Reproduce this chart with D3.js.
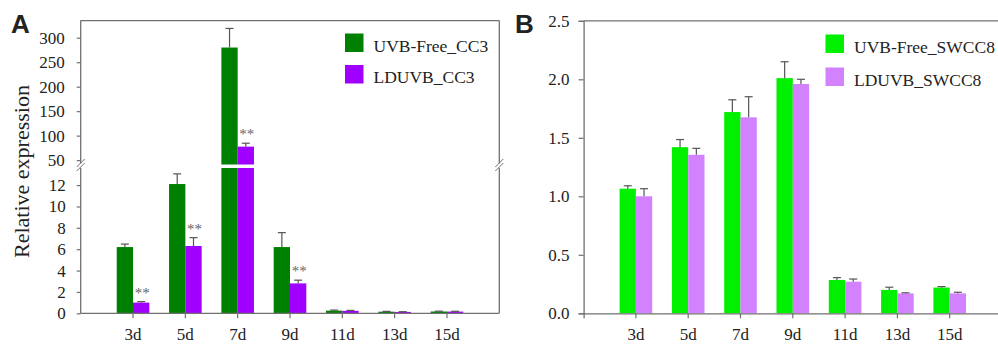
<!DOCTYPE html>
<html>
<head>
<meta charset="utf-8">
<script src="https://cdn.jsdelivr.net/npm/d3@7"></script>
<style>
  body { margin: 0; background: #fff; }
  svg { display: block; }
  text { font-family: "Liberation Serif", "Times New Roman", serif; fill: #222; }
</style>
</head>
<body>
<div id="chart"></div>
<script>
// data
var days = ["3d", "5d", "7d", "9d", "11d", "13d", "15d"];

var cc3Free = [6.2, 12.1, 280, 6.2, 0.25, 0.15, 0.17];
var cc3FreeErr = [0.28, 0.95, 39, 1.35, 0.05, 0.03, 0.03];
var cc3LD = [1.0, 6.3, 77.5, 2.8, 0.23, 0.13, 0.16];
var cc3LDErr = [0.09, 0.78, 7, 0.3, 0.04, 0.02, 0.03];
var cc3Sig = ["**", "**", "**", "**", "", "", ""];

var swFree = [1.065, 1.42, 1.72, 2.01, 0.285, 0.2, 0.22];
var swFreeErr = [0.025, 0.065, 0.105, 0.14, 0.02, 0.023, 0.008];
var swLD = [1.0, 1.355, 1.675, 1.96, 0.27, 0.17, 0.17];
var swLDErr = [0.065, 0.055, 0.176, 0.04, 0.023, 0.005, 0.01];

var lowerTicksA = [0, 2, 4, 6, 8, 10, 12];
var upperTicksA = [50, 100, 150, 200, 250, 300];
var ticksB = [0, 0.5, 1.0, 1.5, 2.0, 2.5];

var namesA = ["UVB-Free_CC3", "LDUVB_CC3"];
var namesB = ["UVB-Free_SWCC8", "LDUVB_SWCC8"];
var colorsA = ["#008000", "#a000ff"];
var colorsB = ["#00f000", "#d282ff"];

var W = 998, H = 344;
var axisColor = "#707070", errColor = "#555";
var serif = "Liberation Serif, Times New Roman, serif";
var barW = 16.3;

var svg = d3.select("#chart").append("svg")
  .attr("width", W).attr("height", H);

function serieScale() {
  return d3.scaleBand().domain([0, 1]).range([-barW, barW]);
}

function styleAxis(g) {
  g.attr("font-family", serif).attr("font-size", 17);
  g.selectAll(".tick line").attr("stroke", axisColor).attr("stroke-width", 1.2);
  g.selectAll(".tick text").attr("fill", "#222");
}

/* ---------------- panel A (broken axis) ---------------- */
var xA = d3.scaleBand().domain(days).range([80.7, 499.3]).paddingInner(0).paddingOuter(0.5);
var yLow = d3.scaleLinear().domain([0, 13.6]).range([313.3, 168]);
var yUp = d3.scaleLinear().domain([40, 335]).range([165, 20.6]);
var sA = serieScale();
var gA = svg.append("g");

var seriesA = [
  {v: cc3Free, e: cc3FreeErr},
  {v: cc3LD, e: cc3LDErr}
];

// value -> pixel, whichever segment it falls in
function yA(v) { return v <= yLow.domain()[1] ? yLow(v) : yUp(v); }

seriesA.forEach(function(s, k) {
  var g = gA.append("g");
  days.forEach(function(d, i) {
    var v = s.v[i];
    var x = xA(d) + xA.bandwidth() / 2 + sA(k);
    var lowTop = yLow(Math.min(v, yLow.domain()[1]));
    g.append("rect")
      .attr("x", x).attr("width", sA.bandwidth())
      .attr("y", lowTop).attr("height", yLow(0) - lowTop)
      .attr("fill", colorsA[k]);
    if (v > yLow.domain()[1]) {
      g.append("rect")
        .attr("x", x).attr("width", sA.bandwidth())
        .attr("y", yUp(v)).attr("height", yUp.range()[0] - yUp(v))
        .attr("fill", colorsA[k]);
    }
    var cx = x + sA.bandwidth() / 2;
    var top = yA(v + s.e[i]);
    g.append("line").attr("x1", cx).attr("x2", cx).attr("y1", yA(v)).attr("y2", top)
      .attr("stroke", errColor).attr("stroke-width", 1.2);
    g.append("line").attr("x1", cx - 4).attr("x2", cx + 4).attr("y1", top).attr("y2", top)
      .attr("stroke", errColor).attr("stroke-width", 1.2);
    if (k == 1 && cc3Sig[i]) {
      gA.append("text").attr("x", cx + 1).attr("y", top - 4)
        .attr("text-anchor", "middle").style("font-size", "15px").style("fill", "#666")
        .text(cc3Sig[i]);
    }
  });
});

// axes A
var axLow = d3.axisLeft(yLow).tickValues(lowerTicksA).tickSize(4).tickPadding(11);
var axUp = d3.axisLeft(yUp).tickValues(upperTicksA).tickSize(4).tickPadding(12);
gA.append("g").attr("transform", "translate(80.7,0)").call(axLow).call(styleAxis);
gA.append("g").attr("transform", "translate(80.7,0)").call(axUp).call(styleAxis);
var axXA = d3.axisBottom(xA).tickSize(5).tickPadding(10);
gA.append("g").attr("transform", "translate(0,313.3)").call(axXA).call(styleAxis);
gA.selectAll(".domain").remove();

// frame lines, with the break gap
var lines = [
  [80.7, 20.6, 80.7, 163.5], [80.7, 168, 80.7, 313.3],
  [499.3, 20.6, 499.3, 163.5], [499.3, 168, 499.3, 313.3],
  [80.7, 20.6, 499.3, 20.6], [80.7, 313.3, 499.3, 313.3]
];
gA.selectAll("line.frame").data(lines).enter().append("line")
  .attr("class", "frame")
  .attr("x1", function(d) { return d[0]; }).attr("y1", function(d) { return d[1]; })
  .attr("x2", function(d) { return d[2]; }).attr("y2", function(d) { return d[3]; })
  .attr("stroke", axisColor).attr("stroke-width", 1.3);

// white gap across the tall bars
gA.append("rect").attr("x", 82).attr("y", 164.5).attr("width", 416).attr("height", 3)
  .attr("fill", "#fff");

// break marks
[80.7, 499.3].forEach(function(bx) {
  [-2, 2].forEach(function(o) {
    gA.append("line")
      .attr("x1", bx - 4).attr("y1", 169 + o).attr("x2", bx + 4).attr("y2", 161 + o)
      .attr("stroke", axisColor).attr("stroke-width", 1);
  });
});

svg.append("text").attr("transform", "translate(28.5,171.5) rotate(-90)")
  .attr("text-anchor", "middle").style("font-size", "22px")
  .text("Relative expression");

/* ---------------- panel B ---------------- */
var xB = d3.scaleBand().domain(days).range([583.6, 1002]).paddingInner(0).paddingOuter(0.5);
var yB = d3.scaleLinear().domain([0, 2.5]).range([313.3, 20.8]);
var gB = svg.append("g");

var seriesB = [
  {v: swFree, e: swFreeErr},
  {v: swLD, e: swLDErr}
];

seriesB.forEach(function(s, k) {
  var g = gB.append("g");
  g.selectAll("rect").data(days).enter().append("rect")
    .attr("x", function(d) { return xB(d) + xB.bandwidth() / 2 + sA(k); })
    .attr("width", sA.bandwidth())
    .attr("y", function(d, i) { return yB(s.v[i]); })
    .attr("height", function(d, i) { return yB(0) - yB(s.v[i]); })
    .attr("fill", colorsB[k]);
  days.forEach(function(d, i) {
    var cx = xB(d) + xB.bandwidth() / 2 + sA(k) + sA.bandwidth() / 2;
    var top = yB(s.v[i] + s.e[i]);
    g.append("line").attr("x1", cx).attr("x2", cx).attr("y1", yB(s.v[i])).attr("y2", top)
      .attr("stroke", errColor).attr("stroke-width", 1.2);
    g.append("line").attr("x1", cx - 4).attr("x2", cx + 4).attr("y1", top).attr("y2", top)
      .attr("stroke", errColor).attr("stroke-width", 1.2);
  });
});

gB.append("g").attr("transform", "translate(583.6,0)")
  .call(d3.axisLeft(yB).tickValues(ticksB).tickFormat(d3.format(".1f")).tickSize(5).tickPadding(9))
  .call(styleAxis);
gB.append("g").attr("transform", "translate(0,313.3)")
  .call(d3.axisBottom(xB).tickSize(5).tickPadding(10))
  .call(styleAxis);
gB.selectAll(".domain").attr("stroke", axisColor).attr("stroke-width", 1.3);
gB.append("line").attr("x1", 583.6).attr("x2", 1002).attr("y1", 20.8).attr("y2", 20.8)
  .attr("stroke", axisColor).attr("stroke-width", 1.3);

/* ---------------- legends and panel letters ---------------- */
function legend(names, colors, x, y, gap) {
  var lg = svg.append("g").attr("transform", "translate(" + x + "," + y + ")");
  names.forEach(function(n, i) {
    lg.append("rect").attr("x", 0).attr("y", i * gap).attr("width", 18.5).attr("height", 18.5)
      .attr("fill", colors[i]);
    lg.append("text").attr("x", 28.5).attr("y", i * gap + 18).style("font-size", "17.5px").text(n);
  });
}
legend(namesA, colorsA, 345, 33.5, 31.5);
legend(namesB, colorsB, 825.5, 34.5, 33);

svg.append("text").attr("x", 11).attr("y", 33).style("font-family", "Liberation Sans")
  .style("font-weight", "bold").style("font-size", "26px").text("A");
svg.append("text").attr("x", 515).attr("y", 33).style("font-family", "Liberation Sans")
  .style("font-weight", "bold").style("font-size", "26px").text("B");
</script>
</body>
</html>
